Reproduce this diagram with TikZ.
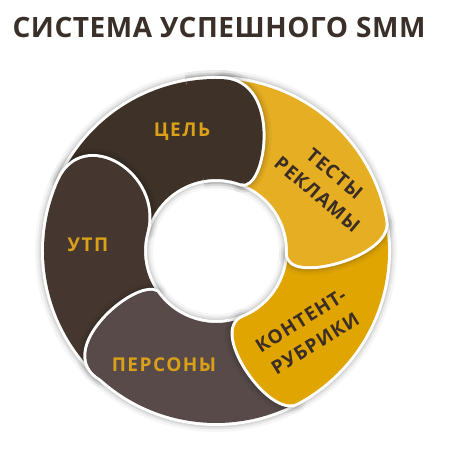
\documentclass[tikz,border=0pt]{standalone}
\usepackage{fontspec}
\setmainfont{Open Sans}
\usepackage{graphicx}
\definecolor{celc}{HTML}{3D3128}
\definecolor{utpc}{HTML}{45372F}
\definecolor{persc}{HTML}{574A49}
\definecolor{testc}{HTML}{E6AE22}
\definecolor{kontc}{HTML}{E0A500}
\definecolor{goldtxt}{HTML}{D9A018}
\definecolor{darktxt}{HTML}{3A2D25}
\definecolor{titlec}{HTML}{3B3029}
\newcommand\Ro{172}
\newcommand\Ri{72}
\newcommand\sgp[8]{(#1:\Ro) arc[start angle=#1,end angle=#3,radius=\Ro] .. controls +(#5:#6) and +(#7:#8) .. (#4:\Ri) arc[start angle=#4,end angle=#2,radius=\Ri] -- cycle}
\newcommand\seg[9]{%
  \foreach \w/\o in {18/0.035,13/0.055,9/0.075,6/0.10}{%
    \draw[line width=\w pt,black,opacity=\o,line join=round] \sgp{#1}{#2}{#3}{#4}{#5}{#6}{#7}{#8};}
  \draw[white,line width=6pt,line join=round] \sgp{#1}{#2}{#3}{#4}{#5}{#6}{#7}{#8};
  \fill[#9] \sgp{#1}{#2}{#3}{#4}{#5}{#6}{#7}{#8};}
\tikzset{
  lbl/.style={font=\bfseries\fontsize{19}{22}\selectfont\addfontfeatures{LetterSpace=8}, text=goldtxt, inner sep=0pt},
  lbldark/.style={font=\bfseries\fontsize{19}{27}\selectfont\addfontfeatures{LetterSpace=6}, text=darktxt, align=center, inner sep=0pt},
}
\begin{document}
\begin{tikzpicture}[x=1pt,y=1pt]
\useasboundingbox (0,0) rectangle (450,450);
\fill[white] (0,0) rectangle (450,450);
\node[font=\bfseries\fontsize{28}{30}\selectfont\addfontfeatures{LetterSpace=2}, text=titlec, inner sep=0pt] (title) at (219,423) {СИСТЕМА УСПЕШНОГО SMM};
\begin{scope}[shift={(216,199)}]
  % ЦЕЛЬ
  \seg{156}{165}{88}{70}{-2}{60}{-20}{25}{celc}
  % УТП
  \seg{-132}{-145}{-204}{-195}{66}{60}{75}{60}{utpc}
  % ПЕРСОНЫ
  \seg{-62}{-68}{-132}{-145}{150}{55}{150}{25}{persc}
  % КОНТЕНТ
  \seg{10}{-2}{-62}{-68}{208}{30}{202}{35}{kontc}
  % ТЕСТЫ
  \seg{88}{70}{10}{-2}{-80}{35}{-92}{30}{testc}
  % ЦЕЛЬ head again, on top of the tail of ТЕСТЫ
  \begin{scope}
    \clip (0,0) -- (100:240) -- (70:240) -- (40:240) -- cycle;
    \seg{156}{165}{88}{70}{-2}{60}{-20}{25}{celc}
  \end{scope}
\end{scope}
\node[lbl] (cel) at (182,318.5) {ЦЕЛЬ};
\node[lbl] (utp) at (88,205) {УТП};
\node[lbl] (pers) at (164,85.5) {ПЕРСОНЫ};
\node[lbldark, rotate=-40] (test) at (326,266) {ТЕСТЫ\\РЕКЛАМЫ};
\node[lbldark, rotate=32] (kont) at (308,118) {КОНТЕНТ-\\РУБРИКИ};
\end{tikzpicture}
\end{document}
